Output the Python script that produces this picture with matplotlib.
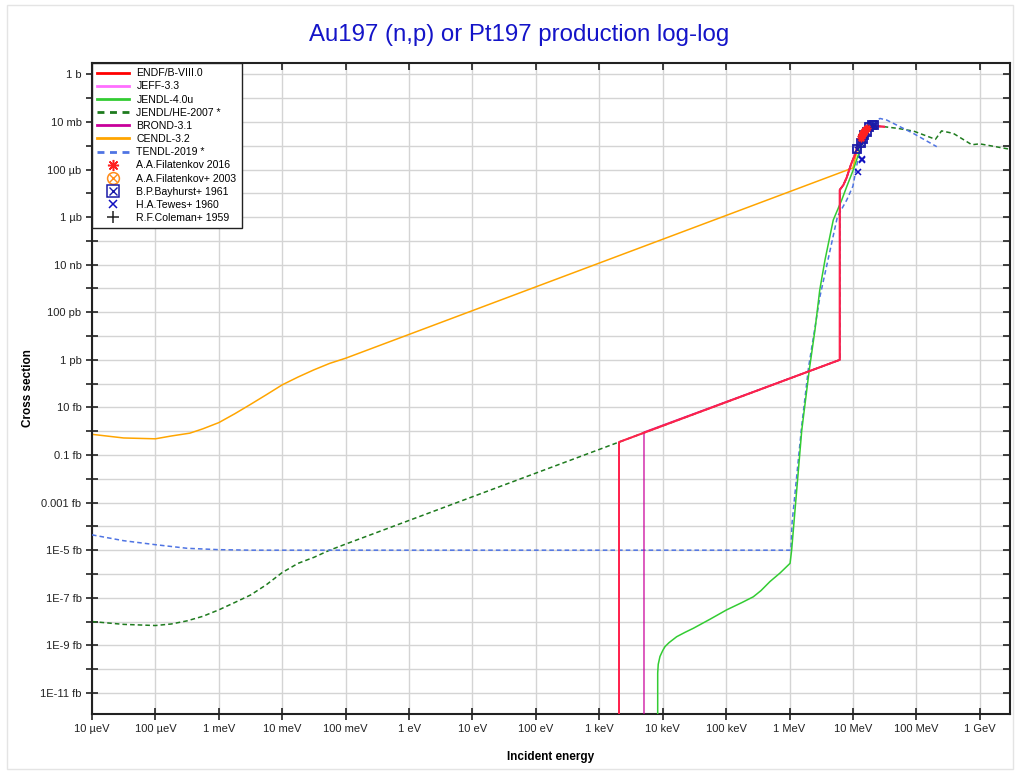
import matplotlib
matplotlib.use('Agg')
import matplotlib.pyplot as plt
from matplotlib.lines import Line2D
from matplotlib.patches import Rectangle
from matplotlib.legend_handler import HandlerTuple
from matplotlib.ticker import FixedLocator, FixedFormatter, NullLocator

plt.rcParams['font.family'] = ['Liberation Sans', 'DejaVu Sans']

#---- data: incident energy in eV, cross section in barn ----#

# CENDL-3.2
cendl_E = [1e-5, 3.16e-5, 1e-4, 1.78e-4, 3.5e-4, 5.6e-4, 1e-3, 1.78e-3, 3.1e-3, 5.6e-3, 1e-2, 1.78e-2,
           3.16e-2, 5.6e-2, 0.1, 1.0e7, 1.2e7, 1.5e7, 2.0e7]
cendl_xs = [7.4e-16, 5.2e-16, 4.8e-16, 6.3e-16, 8.3e-16, 1.26e-15, 2.3e-15, 5.4e-15, 1.3e-14, 3.4e-14, 8.9e-14,
            1.9e-13, 3.8e-13, 7.1e-13, 1.17e-12, 1.17e-4, 9e-4, 3.5e-3, 7.0e-3]

# common fast part of ENDF/B-VIII.0, JEFF-3.3, BROND-3.1 and JENDL/HE-2007
fast_E = [6.2e6, 6.2e6, 7.05e6, 7.95e6, 9.3e6, 1.07e7, 1.22e7, 1.46e7, 1.86e7, 2.24e7, 3.1e7]
fast_xs = [1.0e-12, 1.4e-5, 2.2e-5, 4.5e-5, 1.6e-4, 4.1e-4, 1.26e-3, 3.3e-3, 5.4e-3, 6.7e-3, 6.3e-3]

# ENDF/B-VIII.0 and JEFF-3.3 threshold (2.05 keV)
endf_E = [2.047e3, 2.047e3] + fast_E
endf_xs = [0.0, 3.5e-16] + fast_xs
jeff_E = endf_E
jeff_xs = endf_xs

# BROND-3.1 threshold (5.07 keV)
brond_E = [5.07e3, 5.07e3] + fast_E
brond_xs = [0.0, 9.1e-16] + fast_xs

# JENDL/HE-2007
jhe_E = [1e-5, 3.16e-5, 1e-4, 1.78e-4, 3.16e-4, 5.6e-4, 1e-3, 1.78e-3, 3.16e-3, 5.6e-3, 1e-2, 1.78e-2,
         3.16e-2, 5.6e-2, 0.1, 2.047e3] + fast_E + \
        [5.0e7, 9.1e7, 2.0e8, 2.5e8, 3.83e8, 7.5e8, 1.0e9, 3.0e9]
jhe_xs = [1.0e-23, 7.6e-24, 6.8e-24, 7.9e-24, 1.07e-23, 1.66e-23, 3.1e-23, 6.3e-23, 1.3e-22, 3.5e-22, 1.15e-21,
          2.8e-21, 5.0e-21, 1.0e-20, 1.8e-20, 3.5e-16] + fast_xs + \
         [5.4e-3, 4.1e-3, 1.86e-3, 4.2e-3, 3.3e-3, 1.1e-3, 1.2e-3, 7.1e-4]

# JENDL-4.0u
jendl_E = [8.34e3, 8.34e3, 8.51e3, 9.06e3, 1.0e4, 1.09e4, 1.26e4, 1.66e4, 2.24e4, 3.04e4, 5.6e4, 1.02e5,
           1.78e5, 2.69e5, 3.55e5, 4.92e5, 7.1e5, 1.02e6, 1.08e6,
           1.56e6, 2.05e6, 2.52e6, 3.0e6, 3.63e6, 4.9e6, 6.65e6, 7.98e6, 1.01e7, 1.29e7, 1.55e7, 1.86e7, 2.0e7]
jendl_xs = [0.0, 6.8e-26, 1.6e-25, 3.4e-25, 6.0e-25, 8.9e-25, 1.3e-24, 2.3e-24, 3.5e-24, 5.2e-24, 1.26e-23, 3.1e-23,
            6.3e-23, 1.1e-22, 2.0e-22, 4.8e-22, 1.1e-21, 2.8e-21, 1.0e-20,
            1.1e-15, 3.8e-13, 1.8e-11, 8.7e-10, 1.6e-8, 7.6e-7, 5.2e-6, 1.9e-5, 9.5e-5, 6.6e-4, 2.4e-3, 7.4e-3, 7.6e-3]

# TENDL-2019
tendl_E = [1e-5, 3.16e-5, 1e-4, 3.16e-4, 1e-3, 3.16e-3, 1.0e6, 1.05e6, 1.1e6, 1.55e6, 2.0e6, 2.5e6, 3.02e6, 4.27e6,
           5.7e6, 7.98e6, 1.0e7, 1.15e7, 1.46e7, 1.86e7, 2.67e7, 3.41e7, 4.9e7, 8.96e7, 2.1e8]
tendl_xs = [4.4e-20, 2.5e-20, 1.7e-20, 1.2e-20, 1.05e-20, 1.0e-20, 1.0e-20, 1.0e-20, 1.5e-19, 1.5e-15, 5e-13, 2e-11,
            4.6e-10, 3.1e-8, 1.05e-6, 5.2e-6, 2.0e-5, 1.5e-4, 2.4e-3, 7.4e-3, 1.4e-2, 1.2e-2, 7.4e-3, 3.3e-3, 9.1e-4]

# experimental data (EXFOR)
fil16_E = [1.32e7, 1.36e7, 1.40e7, 1.44e7, 1.48e7, 1.52e7, 1.56e7, 1.60e7, 1.66e7]
fil16_xs = [2.1e-3, 2.5e-3, 2.9e-3, 3.3e-3, 3.8e-3, 4.3e-3, 4.8e-3, 5.1e-3, 5.5e-3]
fil03_E = [1.45e7]
fil03_xs = [3.4e-3]
bay_E = [1.17e7, 1.32e7, 1.42e7, 1.51e7, 1.65e7, 1.81e7, 1.98e7, 2.17e7]
bay_xs = [7.1e-4, 1.3e-3, 2.0e-3, 2.8e-3, 3.9e-3, 5.9e-3, 7.2e-3, 7.4e-3]
tewes_E = [1.22e7, 1.37e7, 1.40e7]
tewes_xs = [8.1e-5, 2.4e-4, 2.7e-4]
coleman_E = [1.45e7]
coleman_xs = [2.6e-3]

#---- ticks ----#
x_ticks = [1e-5, 1e-4, 1e-3, 1e-2, 1e-1, 1e0, 1e1, 1e2, 1e3, 1e4, 1e5, 1e6, 1e7, 1e8, 1e9]
x_labels = ['10 µeV', '100 µeV', '1 meV', '10 meV', '100 meV', '1 eV', '10 eV', '100 eV',
            '1 keV', '10 keV', '100 keV', '1 MeV', '10 MeV', '100 MeV', '1 GeV']
y_ticks = [10.0**k for k in range(-27, 1)]
y_labels_even = {0: '1 b', -2: '10 mb', -4: '100 µb', -6: '1 µb', -8: '10 nb', -10: '100 pb',
                 -12: '1 pb', -14: '10 fb', -16: '0.1 fb', -18: '0.001 fb', -20: '1E-5 fb',
                 -22: '1E-7 fb', -24: '1E-9 fb', -26: '1E-11 fb'}
y_labels = [y_labels_even.get(k, '') for k in range(-27, 1)]

#---- colours / styles ----#
c_endf = '#ff0000'
c_jeff = '#ff6eff'
c_jendl = '#33cc33'
c_jhe = '#1e7b1e'
c_brond = '#c8009a'
c_cendl = '#ffa500'
c_tendl = '#4f74e3'
c_fil16 = '#ff2020'
c_fil03 = '#ff8c1a'
c_bay = '#1a1aa8'
c_tewes = '#1010c0'
c_cole = '#222222'
lw = 1.1
dash = (0, (3, 2))

fig = plt.figure(figsize=(10.2, 7.74), dpi=100)
ax = fig.add_axes([92/1020, 1-714/774, 918/1020, 651/774])

ax.plot(cendl_E, cendl_xs, color=c_cendl, lw=lw, zorder=2)
ax.plot(jhe_E, jhe_xs, color=c_jhe, lw=lw, ls=dash, zorder=2)
ax.plot(tendl_E, tendl_xs, color=c_tendl, lw=lw, ls=dash, zorder=3)
ax.plot(jendl_E, jendl_xs, color=c_jendl, lw=lw, zorder=4)
ax.plot(brond_E, brond_xs, color=c_brond, lw=1.2, alpha=0.75, zorder=5)
ax.plot(endf_E, endf_xs, color=c_endf, lw=1.4, zorder=6)
ax.plot(jeff_E, jeff_xs, color=c_jeff, lw=1.4, alpha=0.3, zorder=7)

# experimental points
ax.plot(coleman_E, coleman_xs, ls='none', marker='+', color=c_cole, ms=6, zorder=8)
ax.plot(tewes_E, tewes_xs, ls='none', marker='x', color=c_tewes, ms=4.5, mew=1.1, zorder=9)
ax.plot(bay_E, bay_xs, ls='none', marker='s', mfc='none', mec=c_bay, ms=6, mew=1.3, zorder=9)
ax.plot(bay_E, bay_xs, ls='none', marker='x', color=c_bay, ms=4.5, mew=1.0, zorder=9)
ax.plot(fil03_E, fil03_xs, ls='none', marker='o', mfc='none', mec=c_fil03, ms=5, mew=1.0, zorder=10)
ax.plot(fil03_E, fil03_xs, ls='none', marker='x', color=c_fil03, ms=3.5, mew=0.8, zorder=10)
ax.plot(fil16_E, fil16_xs, ls='none', marker=(8, 2, 0), color=c_fil16, ms=5.5, mew=1.0, zorder=11)

ax.set_xscale('log')
ax.set_yscale('log')
ax.set_xlim(1e-5, 3e9)
ax.set_ylim(1.3e-27, 3)

ax.xaxis.set_major_locator(FixedLocator(x_ticks))
ax.xaxis.set_major_formatter(FixedFormatter(x_labels))
ax.xaxis.set_minor_locator(NullLocator())
ax.yaxis.set_major_locator(FixedLocator(y_ticks))
ax.yaxis.set_major_formatter(FixedFormatter(y_labels))
ax.yaxis.set_minor_locator(NullLocator())

ax.grid(True, which='major', color='#d4d4d4', lw=1.0)
ax.set_axisbelow(True)
ax.tick_params(axis='both', which='major', direction='inout', length=9, width=1.2,
               labelsize=8, colors='#222222', pad=3, top=True, right=True)
ax.tick_params(axis='x', which='major', labeltop=False)
ax.tick_params(axis='y', which='major', labelright=False)
# top and right ticks point inward only
for t in ax.xaxis.get_major_ticks():
    t.tick2line.set_markersize(5)
    t.tick2line.set_marker(3)
for t in ax.yaxis.get_major_ticks():
    t.tick2line.set_markersize(5)
    t.tick2line.set_marker(0)
for s in ax.spines.values():
    s.set_linewidth(1.5)
    s.set_color('#222222')

ax.set_ylabel('Cross section', fontsize=8.5, fontweight='bold')
ax.set_xlabel('Incident energy', fontsize=8.5, fontweight='bold', labelpad=12)
ax.yaxis.set_label_coords(-58/918, 0.5)

fig.text(0.509, 1-35/774, 'Au197 (n,p) or Pt197 production log-log', fontsize=17.3,
         color='#1414c8', ha='center', va='center')

#---- legend ----#
def ring(marker, col):
    return (Line2D([], [], ls='none', marker=marker, mfc='none', mec=col, ms=8.5, mew=1.1),
            Line2D([], [], ls='none', marker='x', color=col, ms=6, mew=1.0))

handles = [
    Line2D([], [], color=c_endf, lw=2),
    Line2D([], [], color=c_jeff, lw=2),
    Line2D([], [], color=c_jendl, lw=2),
    Line2D([], [], color=c_jhe, lw=2, ls=(0, (2.5, 2))),
    Line2D([], [], color=c_brond, lw=2),
    Line2D([], [], color=c_cendl, lw=2),
    Line2D([], [], color=c_tendl, lw=2, ls=(0, (2.5, 2))),
    Line2D([], [], ls='none', marker=(8, 2, 0), color=c_fil16, ms=8, mew=1.1),
    ring('o', c_fil03),
    ring('s', c_bay),
    Line2D([], [], ls='none', marker='x', color=c_tewes, ms=6, mew=1.1),
    Line2D([], [], ls='none', marker='+', color=c_cole, ms=8, mew=1.1),
]
labels = ['ENDF/B-VIII.0', 'JEFF-3.3', 'JENDL-4.0u', 'JENDL/HE-2007 *', 'BROND-3.1', 'CENDL-3.2',
          'TENDL-2019 *', 'A.A.Filatenkov 2016', 'A.A.Filatenkov+ 2003', 'B.P.Bayhurst+ 1961',
          'H.A.Tewes+ 1960', 'R.F.Coleman+ 1959']
leg = ax.legend(handles, labels, loc='upper left', bbox_to_anchor=(0, 1), borderaxespad=0.0,
                fontsize=7.6, handlelength=3.0, handletextpad=0.7, labelspacing=0.3,
                borderpad=0.5, fancybox=False, framealpha=1.0,
                handler_map={tuple: HandlerTuple(ndivide=1)})
leg.get_frame().set_edgecolor('#222222')
leg.get_frame().set_linewidth(1.0)

fig.patches.append(Rectangle((7/1020, 1-769/774), 1006/1020, 764/774, transform=fig.transFigure,
                             fill=False, edgecolor='#e4e4e4', lw=1.0))

plt.savefig('out.png', dpi=100)
